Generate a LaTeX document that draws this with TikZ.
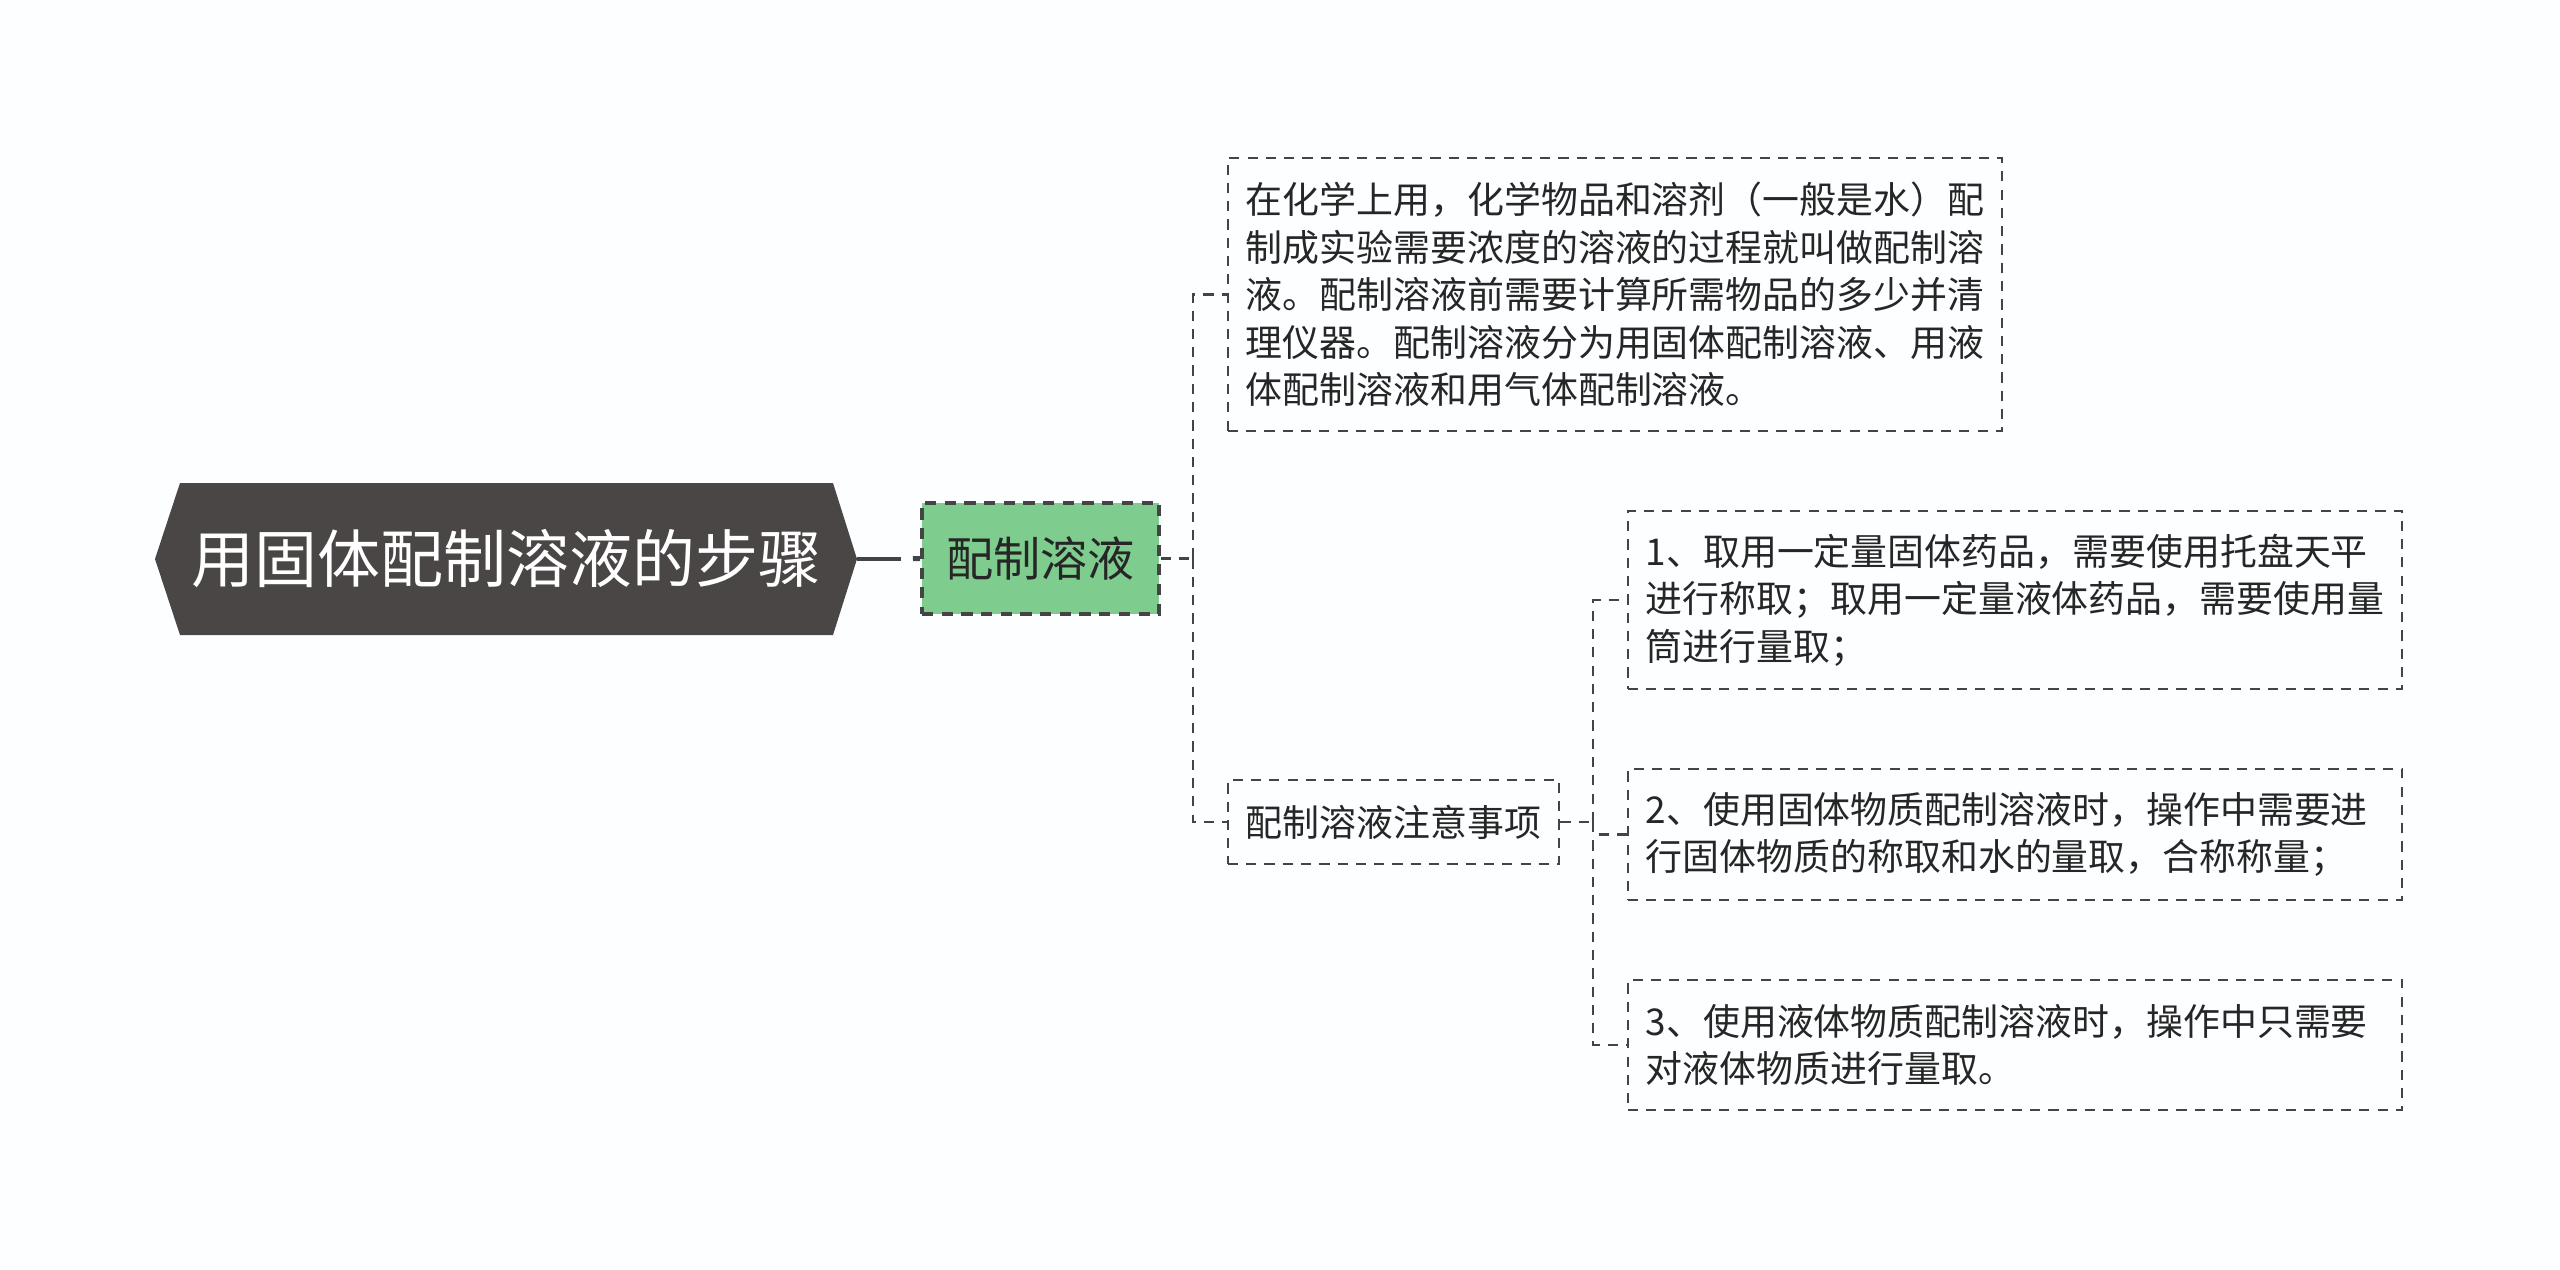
\documentclass[tikz,border=0pt]{standalone}
\usepackage{fontspec}
\setmainfont{Noto Sans CJK SC}
\usetikzlibrary{calc}
\definecolor{bgc}{HTML}{FCFEFF}
\definecolor{rootc}{HTML}{4A4645}
\definecolor{greenc}{HTML}{7ECD8F}
\definecolor{linec}{HTML}{444444}
\definecolor{txtc}{HTML}{262626}
\tikzset{
  conn/.style={draw=linec, line width=0.7pt, dash pattern=on 2.9pt off 2.3pt},
  dbox/.style={draw=linec, line width=0.7pt, dash pattern=on 2.9pt off 2.3pt, fill=bgc,
    inner xsep=0.18cm, inner ysep=0pt, align=left, text=txtc,
    font=\fontsize{10.5}{13.5}\selectfont},
  bigbox/.style={dbox, text width=7.38cm},
}
\begin{document}
\begin{tikzpicture}[x=0.01cm,y=-0.01cm]
\fill[bgc] (0,0) rectangle (2560,1269);
% root hexagon
\fill[rootc] (180,483) -- (833,483) -- (857,559) -- (833,635) -- (180,635) -- (155,559) -- cycle;
\node[minimum width=6.53cm, minimum height=1.52cm, inner sep=0, text=white,
  font=\fontsize{17.9}{20}\selectfont] (root) at (506.5,559) {用固体配制溶液的步骤};
\coordinate (rootTip) at (857,559);
% level 1
\node[dbox, fill=greenc, line width=1pt, dash pattern=on 3.2pt off 2.4pt,
  minimum width=2.37cm, minimum height=1.11cm, inner xsep=0,
  font=\fontsize{13.4}{16}\selectfont] (green) at (1040.5,558.5) {配制溶液};
\node[bigbox, minimum height=2.73cm] (def) at (1615,294.5)
  {在化学上用，化学物品和溶剂（一般是水）配\\制成实验需要浓度的溶液的过程就叫做配制溶\\液。配制溶液前需要计算所需物品的多少并清\\理仪器。配制溶液分为用固体配制溶液、用液\\体配制溶液和用气体配制溶液。};
\node[dbox, minimum width=3.31cm, minimum height=0.84cm, inner xsep=0] (note) at (1393.5,822) {配制溶液注意事项};
\node[bigbox, minimum height=1.78cm] (a) at (2015,600)
  {1、取用一定量固体药品，需要使用托盘天平\\进行称取；取用一定量液体药品，需要使用量\\筒进行量取；};
\node[bigbox, minimum height=1.31cm] (b) at (2015,834.5)
  {2、使用固体物质配制溶液时，操作中需要进\\行固体物质的称取和水的量取，合称称量；};
\node[bigbox, minimum height=1.30cm] (c) at (2015,1045)
  {3、使用液体物质配制溶液时，操作中只需要\\对液体物质进行量取。};
% connectors
\coordinate (jr) at (901,559);
\draw[linec, line width=1.4pt] (rootTip) -- (jr);
\draw[conn, line width=1.4pt, dash pattern=on 0pt off 3.4pt on 2.2pt off 3pt] (jr) -- (green.west);
\coordinate (j1) at (1193,558.5);
\draw[conn] (green.east) -- (j1);
\draw[conn] (j1) |- (def.west);
\draw[conn] (j1) |- (note.west);
\coordinate (j2) at (1593,822);
\draw[conn] (note.east) -- (j2);
\draw[conn] (j2) |- (a.west);
\draw[conn] (j2) |- (b.west);
\draw[conn] (j2) |- (c.west);
\end{tikzpicture}
\end{document}
